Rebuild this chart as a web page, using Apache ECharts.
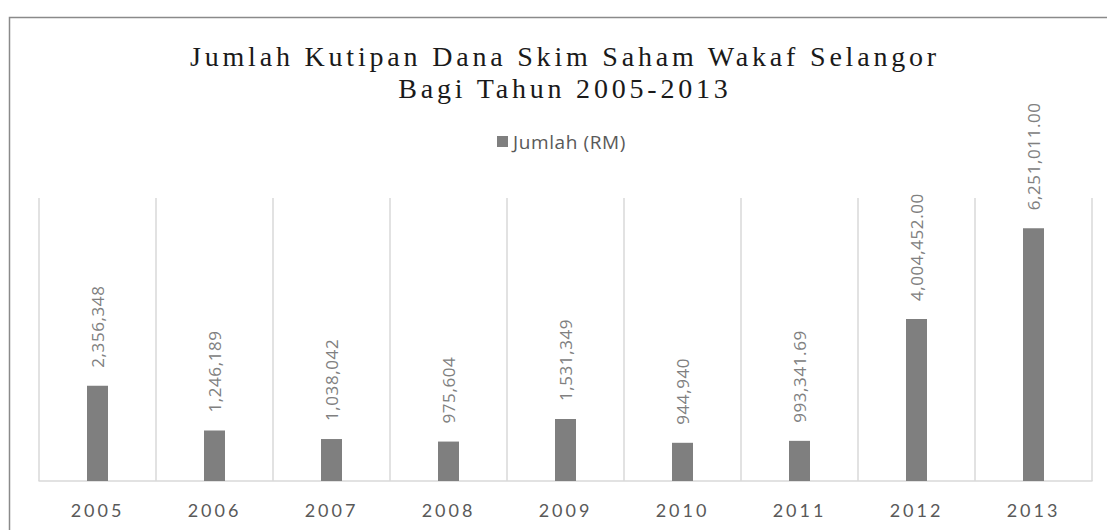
<!DOCTYPE html>
<html>
<head>
<meta charset="utf-8">
<script src="https://cdn.jsdelivr.net/npm/echarts@6/dist/echarts.min.js"></script>
<style>
  html, body { margin: 0; padding: 0; background: #fff; }
  #chart { width: 1107px; height: 530px; }
  /* Excel-style spaced lettering */
  text[style*="Liberation Serif"] { letter-spacing: 3.8px; }
  text[style*="Lato"] { letter-spacing: 3px; }
  text[style*="Open Sans"] { letter-spacing: 0.6px; }
</style>
</head>
<body>
<div id="chart"></div>
<script>
const years = ['2005', '2006', '2007', '2008', '2009', '2010', '2011', '2012', '2013'];
const amounts = [2356348, 1246189, 1038042, 975604, 1531349, 944940, 993341.69, 4004452.00, 6251011.00];
const amountLabels = ['2,356,348', '1,246,189', '1,038,042', '975,604', '1,531,349', '944,940', '993,341.69', '4,004,452.00', '6,251,011.00'];
const seriesName = 'Jumlah (RM)';

let myChart = echarts.init(document.getElementById('chart'), null, { renderer: 'svg' });
myChart.setOption({
  animation: false,
  backgroundColor: '#fff',
  title: {
    text: 'Jumlah Kutipan Dana Skim Saham Wakaf Selangor\nBagi Tahun 2005-2013',
    left: 565,
    top: 40,
    padding: 0,
    textAlign: 'center',
    textStyle: {
      fontFamily: 'Liberation Serif',
      fontSize: 28,
      fontWeight: 'normal',
      color: '#1a1a1a',
      lineHeight: 32
    }
  },
  legend: {
    data: [seriesName],
    left: 497,
    top: 132,
    padding: 0,
    itemWidth: 11,
    itemHeight: 11,
    itemGap: 5,
    icon: 'rect',
    textStyle: { fontFamily: 'Open Sans', fontSize: 19, color: '#595959' }
  },
  graphic: [
    {
      type: 'rect',
      shape: { x: 9.5, y: 17.5, width: 1200, height: 700 },
      silent: true,
      style: { fill: null, stroke: '#8a8a8a', lineWidth: 1.5 }
    }
  ],
  grid: {
    left: 39,
    right: 15,
    top: 198,
    bottom: 49
  },
  xAxis: {
    type: 'category',
    data: years,
    axisLine: { lineStyle: { color: '#d9d9d9', width: 1.5 } },
    axisTick: { show: false },
    splitLine: { show: true, lineStyle: { color: '#d9d9d9', width: 1.5 } },
    axisLabel: {
      fontFamily: 'Lato',
      fontSize: 18,
      color: '#595959',
      margin: 20
    }
  },
  yAxis: {
    type: 'value',
    min: 0,
    max: 7000000,
    show: false,
    splitLine: { show: false }
  },
  series: [
    {
      name: seriesName,
      type: 'bar',
      data: amounts,
      barWidth: 21,
      itemStyle: { color: '#7f7f7f' },
      label: {
        show: true,
        position: 'top',
        rotate: 90,
        align: 'left',
        verticalAlign: 'middle',
        distance: 18,
        fontFamily: 'Open Sans',
        fontSize: 17,
        color: '#808080',
        formatter: function (p) { return amountLabels[p.dataIndex]; }
      }
    }
  ]
});
</script>
</body>
</html>
